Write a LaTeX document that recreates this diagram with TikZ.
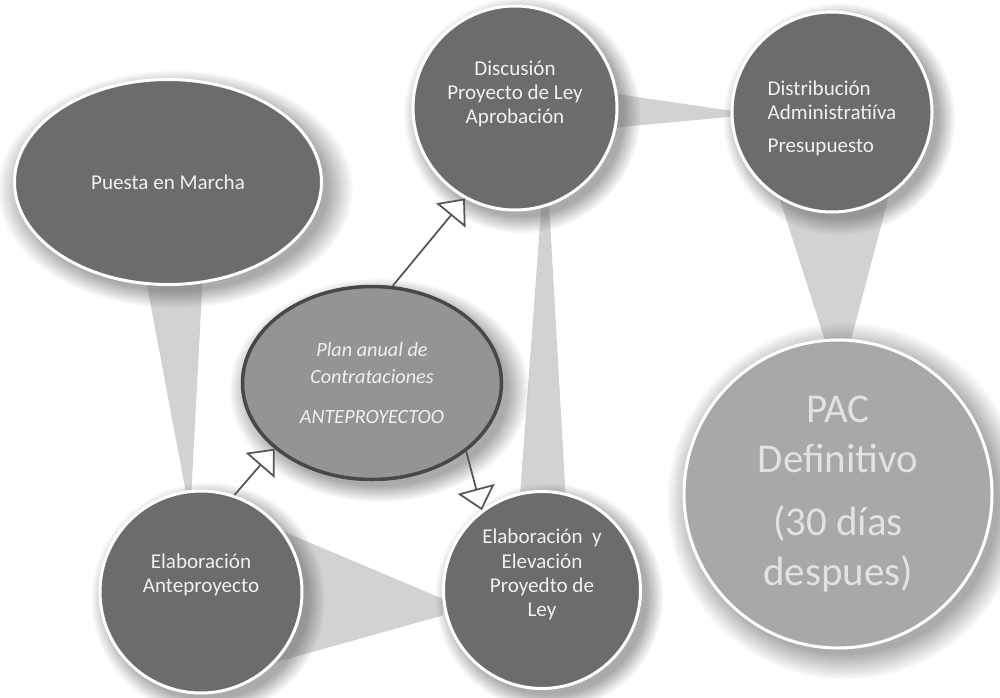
\documentclass[tikz,border=0pt]{standalone}
\usepackage{fontspec}
\setmainfont{Carlito}
\usepackage{tikz}
\usetikzlibrary{shapes.geometric,arrows.meta,calc,shadows,backgrounds}

\definecolor{bubdark}{RGB}{108,108,108}
\definecolor{bubmid}{RGB}{148,148,148}
\definecolor{bublight}{RGB}{168,168,168}
\definecolor{bubtext}{RGB}{240,240,240}
\definecolor{pactext}{RGB}{226,226,226}
\definecolor{rimdark}{RGB}{72,72,72}
\definecolor{funnelgray}{RGB}{210,210,210}
\definecolor{arrowgray}{RGB}{85,85,85}

% tapered band from the centre of #1 to the border point #2
\newcommand\funnel[4]{%
  \fill[funnel] ($(#1)!#3!90:(#2)$) -- ($(#2)!#4!-90:(#1)$)
    -- ($(#2)!#4!90:(#1)$) -- ($(#1)!#3!-90:(#2)$) -- cycle;}

\begin{document}
\begin{tikzpicture}[
  x=0.2mm, y=-0.2mm,
  font=\fontsize{12}{13.7}\selectfont,
  glow/.style   = {circular drop shadow={shadow xshift=1.2mm, shadow yshift=-1.2mm,
                   shadow scale=1.16, fill=black!60, opacity=.55}},
  bubble/.style = {circle, draw=white, line width=0.6mm, fill=bubdark,
                   text=bubtext, align=center, inner sep=0pt, glow},
  oval/.style   = {ellipse, draw=white, line width=0.6mm, fill=bubdark,
                   text=bubtext, align=center, inner sep=0pt, glow},
  lift/.style   = {text depth=#1},
  funnel/.style = {fill=funnelgray},
  arr/.style    = {-{Triangle[length=4.4mm,width=7.6mm,fill=white]},
                   draw=arrowgray, line width=0.35mm}
]
\useasboundingbox (0,0) rectangle (1000,698);

% Stages
\node[oval, minimum width=61.4mm, minimum height=41mm] (puesta) at (168,182)
  {Puesta en Marcha};
\node[bubble, minimum size=40.8mm, lift=6.2mm] (disc) at (515,108)
  {Discusión\\Proyecto de Ley\\Aprobación};
\node[bubble, minimum size=40mm, align=left, text height=17mm] (dist) at (832,112)
  {Distribución\\Administratiíva\\[1.8mm]Presupuesto};
\node[oval, fill=bubmid, draw=rimdark, line width=0.7mm,
      minimum width=51.8mm, minimum height=38.6mm,
      font=\fontsize{11.5}{15.4}\selectfont\itshape] (plan) at (372,383)
  {Plan anual de\\Contrataciones\\[2.6mm]ANTEPROYECTOO};
\node[bubble, minimum size=40.4mm, lift=7.5mm] (anteA) at (201,592)
  {Elaboración\\Anteproyecto};
\node[bubble, minimum size=39.4mm, lift=6.9mm] (elabE) at (542,590)
  {Elaboración~ y\\Elevación\\Proyedto de\\Ley};
\node[bubble, fill=bublight, text=pactext, minimum size=61.6mm,
      font=\fontsize{23.3}{28.5}\selectfont] (pac) at (838,494)
  {PAC\\Definitivo\\[2.4mm](30 días\\despues)};

% Funnels
\begin{scope}[on background layer]
\funnel{puesta}{anteA.97}{8mm}{0.6mm}
\funnel{anteA}{elabE.190}{18.6mm}{1.6mm}
\funnel{elabE}{disc.287}{5.8mm}{0.8mm}
\funnel{disc}{dist.181}{5.8mm}{0.6mm}
\funnel{dist}{pac.90}{15.9mm}{2.7mm}
\end{scope}

% Arrows
\draw[arr] (plan.78)  -- (disc.241);
\draw[arr] (anteA.71) -- (plan.214);
\draw[arr] (plan.324) -- (elabE.127);
\end{tikzpicture}
\end{document}
